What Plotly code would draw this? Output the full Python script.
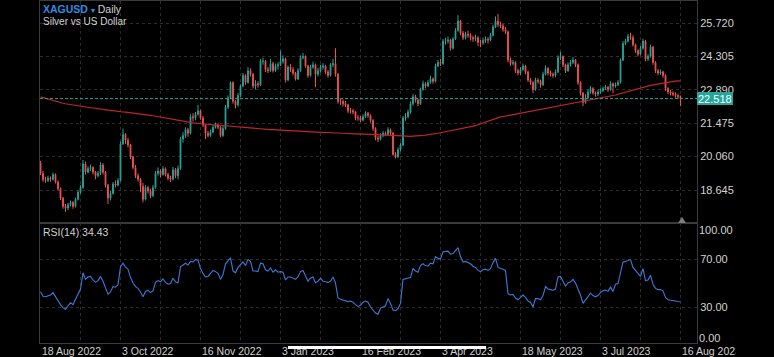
import pandas as pd
import plotly.graph_objects as go
from plotly.subplots import make_subplots

# ---------------- data ----------------
holidays = ['2022-12-26', '2023-01-02', '2023-04-07']
dates = [d.strftime('%Y-%m-%d') for d in pd.bdate_range('2022-08-18', '2023-08-16')
         if d.strftime('%Y-%m-%d') not in holidays]
bar_index = list(range(len(dates)))

open_ = [
    19.80, 19.35, 19.08, 19.05, 19.15, 19.10, 19.30, 18.98, 18.70, 18.30,
    17.95, 17.88, 18.02, 18.12, 17.95, 18.25, 18.55, 18.75, 19.75, 19.40,
    19.55, 19.60, 19.40, 19.25, 19.35, 19.70, 19.40, 18.85, 18.30, 18.50,
    18.90, 18.85, 19.05, 20.60, 21.00, 20.75, 20.55, 20.05, 19.60, 19.25,
    19.10, 18.80, 18.25, 18.75, 18.60, 18.40, 18.75, 19.35, 19.45, 19.30,
    19.55, 19.30, 19.15, 19.10, 19.50, 19.25, 19.55, 20.80, 20.95, 21.20,
    21.05, 21.75, 21.70, 21.85, 22.00, 21.70, 21.40, 21.05, 20.95, 21.10,
    21.30, 21.40, 21.30, 20.95, 21.25, 22.15, 22.55, 23.20, 22.40, 22.25,
    22.65, 23.05, 23.50, 23.20, 23.70, 23.55, 23.05, 23.15, 23.10, 24.10,
    24.10, 23.75, 23.70, 24.00, 23.70, 23.90, 23.95, 24.10, 24.20, 23.30,
    23.85, 23.75, 23.60, 23.35, 23.70, 24.25, 24.30, 23.90, 23.50, 23.85,
    23.95, 23.55, 23.70, 23.85, 23.90, 23.65, 23.50, 23.95, 24.00, 23.55,
    22.40, 22.40, 22.30, 22.25, 22.00, 22.00, 21.95, 21.70, 21.70, 21.60,
    21.75, 21.90, 21.80, 21.60, 21.25, 20.85, 20.80, 20.95, 21.05, 21.00,
    21.20, 21.05, 20.15, 20.05, 20.35, 20.55, 21.70, 21.75, 21.95, 22.30,
    22.60, 22.45, 22.30, 22.90, 23.15, 23.05, 23.20, 23.35, 23.25, 23.90,
    24.05, 24.00, 24.95, 24.95, 25.00, 24.65, 25.05, 25.40, 25.80, 25.30,
    25.10, 25.25, 25.20, 25.10, 25.05, 25.10, 24.90, 24.88, 24.98, 25.03,
    25.00, 25.20, 25.55, 25.80, 25.65, 25.60, 25.45, 25.35, 24.15, 24.00,
    24.05, 23.70, 23.60, 23.75, 23.90, 23.65, 23.30, 23.20, 22.90, 23.30,
    23.25, 23.10, 23.55, 23.80, 23.60, 23.55, 23.50, 23.65, 24.25, 24.30,
    23.95, 23.70, 23.95, 24.05, 24.15, 23.95, 23.20, 22.75, 22.35, 22.55,
    22.80, 22.95, 22.75, 22.70, 22.80, 22.85, 22.95, 23.00, 22.90, 23.15,
    23.05, 23.10, 23.20, 24.15, 24.85, 24.95, 25.15, 25.10, 24.80, 24.55,
    24.40, 24.65, 24.95, 24.20, 24.30, 24.70, 24.05, 23.70, 23.60, 23.65,
    23.50, 22.95, 22.80, 22.75, 22.70, 22.65, 22.60,
]

high = [
    19.88, 19.45, 19.20, 19.25, 19.22, 19.38, 19.35, 19.05, 18.75, 18.35,
    18.05, 18.10, 18.20, 18.18, 18.32, 18.62, 18.85, 19.92, 19.85, 19.65,
    19.72, 19.65, 19.45, 19.45, 19.82, 19.78, 19.45, 18.90, 18.62, 18.98,
    19.05, 19.15, 20.70, 21.25, 21.05, 20.85, 20.60, 20.10, 19.70, 19.35,
    19.15, 18.95, 18.85, 18.82, 18.70, 18.85, 19.45, 19.60, 19.52, 19.65,
    19.60, 19.38, 19.25, 19.62, 19.58, 19.68, 20.90, 21.10, 21.30, 21.28,
    21.85, 21.90, 21.95, 22.25, 22.05, 21.78, 21.45, 21.15, 21.20, 21.40,
    21.50, 21.48, 21.35, 21.35, 22.25, 22.65, 23.25, 23.25, 22.45, 22.75,
    23.12, 23.60, 23.55, 23.85, 23.80, 23.60, 23.30, 23.25, 24.20, 24.25,
    24.15, 23.85, 24.20, 24.08, 24.00, 24.05, 24.55, 24.35, 24.25, 23.92,
    23.98, 23.85, 23.65, 23.80, 24.35, 24.45, 24.35, 23.95, 23.95, 24.08,
    24.00, 23.82, 23.95, 24.02, 23.95, 23.72, 24.02, 24.20, 24.65, 23.60,
    22.50, 22.48, 22.42, 22.30, 22.12, 22.08, 22.00, 21.82, 21.78, 21.85,
    21.98, 21.95, 21.85, 21.65, 21.30, 20.95, 21.05, 21.15, 21.12, 21.30,
    21.25, 21.10, 20.25, 20.45, 20.65, 21.78, 21.90, 22.05, 22.40, 22.72,
    22.68, 22.52, 22.98, 23.28, 23.22, 23.30, 23.48, 23.42, 24.00, 24.15,
    24.20, 25.05, 25.10, 25.15, 25.05, 25.12, 25.50, 26.05, 25.85, 25.38,
    25.35, 25.40, 25.28, 25.18, 25.22, 25.15, 25.00, 25.10, 25.15, 25.12,
    25.30, 25.65, 26.00, 26.10, 25.78, 25.68, 25.55, 25.40, 24.25, 24.15,
    24.10, 23.78, 23.85, 24.00, 23.95, 23.70, 23.38, 23.25, 23.40, 23.38,
    23.32, 23.65, 23.92, 23.85, 23.70, 23.62, 23.75, 24.35, 24.50, 24.35,
    24.00, 24.05, 24.15, 24.28, 24.20, 24.00, 23.25, 22.80, 22.70, 22.90,
    23.05, 23.00, 22.82, 22.90, 22.95, 23.02, 23.10, 23.05, 23.25, 23.20,
    23.20, 23.30, 24.22, 24.95, 25.05, 25.25, 25.30, 25.20, 24.85, 24.60,
    24.75, 25.05, 25.00, 24.40, 24.80, 24.75, 24.10, 23.78, 23.75, 23.70,
    23.55, 23.00, 22.88, 22.82, 22.78, 22.72, 22.65,
]

low = [
    19.28, 19.00, 18.95, 18.98, 19.00, 19.05, 18.92, 18.62, 18.22, 17.85,
    17.72, 17.80, 17.95, 17.85, 17.90, 18.20, 18.48, 18.70, 19.30, 19.35,
    19.45, 19.30, 19.10, 19.18, 19.28, 19.30, 18.75, 18.05, 18.20, 18.45,
    18.75, 18.80, 19.00, 20.55, 20.60, 20.45, 19.95, 19.52, 19.15, 19.00,
    18.55, 18.12, 18.20, 18.50, 18.30, 18.35, 18.70, 19.25, 19.18, 19.25,
    19.22, 19.05, 18.98, 19.05, 19.15, 19.10, 19.50, 20.65, 20.85, 20.90,
    21.00, 21.55, 21.60, 21.80, 21.62, 21.32, 20.80, 20.88, 20.90, 21.05,
    21.25, 21.22, 20.88, 20.90, 21.20, 22.08, 22.50, 22.30, 22.10, 22.18,
    22.58, 23.00, 23.10, 23.15, 23.45, 22.95, 22.90, 22.98, 23.05, 23.95,
    23.65, 23.60, 23.65, 23.62, 23.65, 23.75, 23.90, 24.00, 23.20, 23.25,
    23.65, 23.50, 23.28, 23.30, 23.65, 24.18, 23.82, 23.40, 23.45, 23.78,
    23.00, 23.45, 23.62, 23.75, 23.55, 23.40, 23.45, 23.85, 23.45, 22.30,
    22.25, 22.18, 22.15, 21.90, 21.88, 21.85, 21.60, 21.58, 21.52, 21.55,
    21.70, 21.70, 21.50, 21.15, 20.75, 20.68, 20.75, 20.88, 20.92, 20.95,
    20.98, 20.10, 19.98, 20.00, 20.28, 20.50, 21.58, 21.68, 21.88, 22.22,
    22.35, 22.20, 22.25, 22.85, 22.95, 23.00, 23.15, 23.15, 23.20, 23.85,
    23.90, 23.95, 24.80, 24.85, 24.55, 24.60, 25.00, 25.35, 25.20, 25.00,
    25.02, 25.10, 24.98, 24.92, 24.95, 24.75, 24.70, 24.80, 24.88, 24.85,
    24.95, 25.15, 25.50, 25.55, 25.50, 25.35, 25.25, 24.05, 23.90, 23.92,
    23.60, 23.50, 23.52, 23.70, 23.55, 23.22, 23.10, 22.75, 22.85, 23.15,
    22.98, 23.05, 23.50, 23.50, 23.45, 23.40, 23.42, 23.60, 24.15, 23.85,
    23.60, 23.65, 23.88, 23.98, 23.85, 23.10, 22.65, 22.20, 22.30, 22.50,
    22.72, 22.68, 22.60, 22.62, 22.72, 22.80, 22.88, 22.80, 22.85, 22.75,
    22.98, 23.05, 23.15, 24.10, 24.78, 24.90, 25.00, 24.72, 24.45, 24.30,
    24.35, 24.60, 24.10, 24.10, 24.25, 23.95, 23.60, 23.50, 23.52, 23.40,
    22.85, 22.70, 22.65, 22.62, 22.55, 22.50, 22.20,
]

close = [
    19.35, 19.08, 19.05, 19.15, 19.10, 19.30, 18.98, 18.70, 18.30, 17.95,
    17.88, 18.02, 18.12, 17.95, 18.25, 18.55, 18.75, 19.75, 19.40, 19.55,
    19.60, 19.40, 19.25, 19.35, 19.70, 19.40, 18.85, 18.30, 18.50, 18.90,
    18.85, 19.05, 20.60, 21.00, 20.75, 20.55, 20.05, 19.60, 19.25, 19.10,
    18.80, 18.25, 18.75, 18.60, 18.40, 18.75, 19.35, 19.45, 19.30, 19.55,
    19.30, 19.15, 19.10, 19.50, 19.25, 19.55, 20.80, 20.95, 21.20, 21.05,
    21.75, 21.70, 21.85, 22.00, 21.70, 21.40, 21.05, 20.95, 21.10, 21.30,
    21.40, 21.30, 20.95, 21.25, 22.15, 22.55, 23.20, 22.40, 22.25, 22.65,
    23.05, 23.50, 23.20, 23.70, 23.55, 23.05, 23.15, 23.10, 24.10, 24.10,
    23.75, 23.70, 24.00, 23.70, 23.90, 23.95, 24.10, 24.20, 23.30, 23.85,
    23.75, 23.60, 23.35, 23.70, 24.25, 24.30, 23.90, 23.50, 23.85, 23.95,
    23.55, 23.70, 23.85, 23.90, 23.65, 23.50, 23.95, 24.00, 23.55, 22.40,
    22.40, 22.30, 22.25, 22.00, 22.00, 21.95, 21.70, 21.70, 21.60, 21.75,
    21.90, 21.80, 21.60, 21.25, 20.85, 20.80, 20.95, 21.05, 21.00, 21.20,
    21.05, 20.15, 20.05, 20.35, 20.55, 21.70, 21.75, 21.95, 22.30, 22.60,
    22.45, 22.30, 22.90, 23.15, 23.05, 23.20, 23.35, 23.25, 23.90, 24.05,
    24.00, 24.95, 24.95, 25.00, 24.65, 25.05, 25.40, 25.80, 25.30, 25.10,
    25.25, 25.20, 25.10, 25.05, 25.10, 24.90, 24.88, 24.98, 25.03, 25.00,
    25.20, 25.55, 25.80, 25.65, 25.60, 25.45, 25.35, 24.15, 24.00, 24.05,
    23.70, 23.60, 23.75, 23.90, 23.65, 23.30, 23.20, 22.90, 23.30, 23.25,
    23.10, 23.55, 23.80, 23.60, 23.55, 23.50, 23.65, 24.25, 24.30, 23.95,
    23.70, 23.95, 24.05, 24.15, 23.95, 23.20, 22.75, 22.35, 22.55, 22.80,
    22.95, 22.75, 22.70, 22.80, 22.85, 22.95, 23.00, 22.90, 23.15, 23.05,
    23.10, 23.20, 24.15, 24.85, 24.95, 25.15, 25.10, 24.80, 24.55, 24.40,
    24.65, 24.95, 24.20, 24.30, 24.70, 24.05, 23.70, 23.60, 23.65, 23.50,
    22.95, 22.80, 22.75, 22.70, 22.65, 22.60, 22.518,
]

ma200 = [
    22.59, 22.56, 22.52, 22.49,
    22.45, 22.42, 22.38,
    22.36, 22.34, 22.32, 22.30, 22.28, 22.26,
    22.24, 22.23, 22.21, 22.19, 22.18, 22.16, 22.15, 22.13,
    22.12, 22.10, 22.09, 22.07, 22.06, 22.04,
    22.03, 22.02, 22.00, 21.99, 21.98, 21.96,
    21.95, 21.94, 21.93, 21.91, 21.90,
    21.89, 21.88, 21.86, 21.85, 21.84, 21.82, 21.81,
    21.79, 21.77, 21.75, 21.73, 21.71, 21.69,
    21.67, 21.65, 21.63, 21.61, 21.58, 21.56,
    21.55, 21.53, 21.52, 21.51, 21.49, 21.48, 21.46, 21.45,
    21.44, 21.43, 21.43, 21.42, 21.41, 21.40, 21.40, 21.39, 21.38, 21.37,
    21.36, 21.35, 21.34, 21.33, 21.32, 21.31, 21.30, 21.29, 21.28, 21.27, 21.26, 21.25, 21.24, 21.22,
    21.22, 21.21, 21.21, 21.20, 21.20, 21.19, 21.19, 21.18, 21.18, 21.17, 21.17, 21.16,
    21.15, 21.15, 21.14, 21.14, 21.13, 21.13, 21.12, 21.12, 21.11, 21.10, 21.10, 21.09,
    21.09, 21.08, 21.08, 21.07, 21.07, 21.06, 21.06, 21.05, 21.05, 21.04, 21.03, 21.03, 21.02,
    21.02, 21.02, 21.01, 21.01, 21.01, 21.00, 21.00, 21.00, 20.99, 20.99, 20.98, 20.98, 20.97, 20.97,
    20.96, 20.96, 20.95, 20.94, 20.93, 20.93, 20.92,
    20.92, 20.92, 20.93, 20.93, 20.94, 20.95,
    20.96, 20.97, 20.98, 21.00, 21.01,
    21.03, 21.05, 21.07, 21.09, 21.11, 21.12, 21.14, 21.16,
    21.18, 21.20, 21.22, 21.24, 21.26, 21.29, 21.31,
    21.34, 21.37, 21.41, 21.45,
    21.49, 21.53, 21.57, 21.61, 21.65, 21.69,
    21.71, 21.74, 21.76, 21.78, 21.81, 21.83,
    21.85, 21.87, 21.89, 21.91, 21.93, 21.94, 21.96,
    21.98, 22.00, 22.02, 22.04, 22.05, 22.07, 22.09,
    22.11, 22.13, 22.15, 22.17, 22.19, 22.21, 22.23,
    22.25, 22.28, 22.30, 22.32, 22.35, 22.37, 22.40, 22.42,
    22.44, 22.45, 22.47, 22.48, 22.50, 22.52, 22.53,
    22.55, 22.57, 22.60, 22.62, 22.65, 22.67, 22.70,
    22.73, 22.76, 22.80, 22.83, 22.86, 22.90, 22.93,
    22.96, 22.98, 23.01, 23.03, 23.05, 23.08, 23.10,
    23.12, 23.15, 23.17, 23.19, 23.21, 23.23,
    23.24, 23.25, 23.26, 23.27, 23.27,
]

rsi14 = [
    42.8, 39.0, 38.5, 39.5, 40.0, 42.0, 38.5, 35.5, 32.0, 29.5,
    28.0, 31.0, 33.5, 32.0, 36.0, 40.5, 45.0, 58.5, 53.0, 55.0,
    55.5, 52.5, 50.5, 52.0, 55.5, 51.5, 45.0, 40.5, 42.5, 47.0,
    46.5, 48.5, 63.5, 66.5, 63.5, 61.5, 54.5, 50.0, 47.0, 45.5,
    42.5, 38.5, 43.0, 44.0, 42.0, 43.5, 50.5, 52.0, 51.0, 53.5,
    50.5, 49.0, 49.5, 54.0, 51.0, 50.0, 63.5, 65.0, 66.5, 65.0,
    68.0, 67.5, 69.5, 69.0, 62.0, 58.0, 55.0, 55.5, 58.0, 60.5,
    59.5, 58.0, 53.0, 57.0, 66.0, 68.5, 71.0, 60.0, 58.5, 63.0,
    65.5, 67.5, 64.5, 69.5, 68.0, 60.0, 60.0, 59.5, 66.5, 66.0,
    61.0, 60.0, 62.5, 59.0, 61.0, 59.0, 59.5, 59.0, 52.5, 55.0,
    55.0, 54.0, 53.0, 55.0, 59.5, 60.5, 56.5, 51.5, 54.0, 55.0,
    50.0, 51.5, 54.0, 51.5, 51.0, 50.5, 51.5, 55.0, 50.0, 37.5,
    36.5, 36.0, 35.5, 34.5, 35.0, 34.0, 32.0, 30.5, 31.5, 34.0,
    35.0, 34.0, 30.0, 27.5, 25.0, 24.0, 29.0, 30.0, 31.0, 37.0,
    33.0, 27.5, 27.0, 28.5, 33.0, 53.0, 53.5, 54.0, 54.5, 62.0,
    60.0, 59.0, 64.5, 66.0, 64.5, 64.0, 66.5, 66.0, 72.0, 70.5,
    70.0, 76.0, 76.0, 76.5, 74.0, 74.5, 77.0, 79.5, 72.0, 67.5,
    68.0, 67.0, 66.0, 64.0, 63.0, 60.5, 59.5, 61.0, 61.5, 60.5,
    62.0, 67.0, 70.5, 63.0, 62.5, 61.5, 60.5, 41.0, 40.0, 40.5,
    37.5, 36.0, 38.0, 40.0, 38.0, 35.0, 34.0, 30.0, 37.0, 37.0,
    36.0, 39.5, 47.0, 45.0, 44.5, 44.0, 45.0, 55.0, 55.5, 51.5,
    47.5, 50.0, 51.0, 53.0, 50.0, 45.0, 40.0, 33.0, 36.0, 39.0,
    41.5, 39.5, 38.5, 39.5, 42.0, 43.5, 44.0, 43.0, 46.5, 43.0,
    49.0, 49.5, 58.0, 67.5, 68.0, 68.5, 69.5, 63.0, 60.5, 57.5,
    55.5, 62.0, 52.0, 52.5, 56.5, 49.0, 45.5, 44.5, 44.5, 43.5,
    38.0, 36.0, 35.5, 35.0, 34.8, 34.6, 34.43,
]

for _name, _arr in [('open', open_), ('high', high), ('low', low), ('close', close),
                    ('ma200', ma200), ('rsi14', rsi14)]:
    assert len(_arr) == len(dates), (_name, len(_arr), len(dates))

tick_dates = ['2022-08-18', '2022-10-03', '2022-11-16', '2023-01-03', '2023-02-16',
              '2023-04-03', '2023-05-18', '2023-07-03', '2023-08-16']
tick_labels = ['18 Aug 2022', '3 Oct 2022', '16 Nov 2022', '3 Jan 2023', '16 Feb 2023',
               '3 Apr 2023', '18 May 2023', '3 Jul 2023', '16 Aug 2023']
price_ticks = [18.645, 20.060, 21.475, 22.890, 24.305, 25.720]
rsi_ticks = [30, 70]
rsi_edge_ticks = [100, 0]

# ---------------- style ----------------
FONT = 'Liberation Sans, Arial, Helvetica, sans-serif'
UP = '#26a69a'
DOWN = '#ef5350'
MA_COLOR = '#c0262d'
RSI_COLOR = '#3d7ad6'
TXT = '#d2d2d2'
GRID = '#2c2c2c'
BORDER = '#3a3a3a'
BLUE = '#2e8de0'

W, H = 774, 357
ML, MR, MT, MB = 40, 77, 1, 14
PLOT_H = H - MT - MB
PRICE_H, RSI_H = 222, 120

def py(ypx):
    """paper y from pixel y (top-origin)"""
    return (H - MB - ypx) / PLOT_H

fig = make_subplots(rows=2, cols=1, shared_xaxes=True, vertical_spacing=0,
                    row_heights=[PRICE_H, RSI_H])

fig.add_trace(go.Candlestick(
    x=bar_index, open=open_, high=high, low=low, close=close,
    text=dates, hoverinfo='text+y',
    increasing=dict(line=dict(color=UP, width=1), fillcolor=UP),
    decreasing=dict(line=dict(color=DOWN, width=1), fillcolor=DOWN),
    whiskerwidth=0, showlegend=False, name='XAGUSD'), row=1, col=1)

fig.add_trace(go.Scatter(x=bar_index, y=ma200, mode='lines',
                         line=dict(color=MA_COLOR, width=1.2),
                         hoverinfo='skip', showlegend=False), row=1, col=1)

fig.add_trace(go.Scatter(x=bar_index, y=rsi14, mode='lines',
                         line=dict(color=RSI_COLOR, width=1.1),
                         hoverinfo='skip', showlegend=False), row=2, col=1)

x_range = [-0.2, 262.6]
price_range = [17.247, 26.652]
grid_vals = bar_index[16::16]

axis_common = dict(showline=True, mirror=True, linecolor=BORDER, linewidth=1,
                   zeroline=False, ticks='', showgrid=True, gridcolor=GRID,
                   griddash='dot', gridwidth=1)

fig.update_xaxes(range=x_range, tickmode='array', tickvals=grid_vals,
                 showticklabels=False, rangeslider_visible=False, **axis_common)
fig.update_yaxes(side='right', tickfont=dict(color=TXT, size=11, family=FONT),
                 **axis_common)
fig.update_yaxes(range=price_range, tickmode='array', tickvals=price_ticks,
                 ticktext=[f'{v:.3f}' for v in price_ticks], row=1, col=1)
fig.update_yaxes(range=[0, 100], tickmode='array', tickvals=rsi_ticks,
                 ticktext=[f'{v:.2f}' for v in rsi_ticks], row=2, col=1)

annotations = []
# title
annotations.append(dict(
    xref='paper', yref='paper', x=0, xshift=1, y=py(9), xanchor='left', yanchor='middle',
    text=f'<b>XAGUSD</b> <span style="font-size:8px">▾</span> <span style="color:{TXT}">Daily</span>',
    font=dict(color=BLUE, size=10.5, family=FONT), showarrow=False))
annotations.append(dict(
    xref='paper', yref='paper', x=0, xshift=1, y=py(21), xanchor='left', yanchor='middle',
    text='Silver vs US Dollar', font=dict(color=TXT, size=10, family=FONT), showarrow=False))
annotations.append(dict(
    xref='paper', yref='paper', x=0, xshift=1, y=py(232), xanchor='left', yanchor='middle',
    text=f'RSI(14) {rsi14[-1]:.2f}', font=dict(color=TXT, size=10.5, family=FONT),
    showarrow=False))
# x date labels (left aligned at gridlines)
for d, lab in zip(tick_dates, tick_labels):
    a = dict(xref='x2', yref='paper', x=dates.index(d), xshift=-1, y=py(350.5),
             xanchor='left', yanchor='middle', text=lab, align='left',
             font=dict(color=TXT, size=10.5, family=FONT), showarrow=False)
    if d == tick_dates[-1]:
        a.update(width=54, height=14)
    annotations.append(a)
# RSI edge labels
for v, ypx in zip(rsi_edge_ticks, [229.5, 337.5]):
    annotations.append(dict(xref='paper', yref='paper', x=1, xshift=0, y=py(ypx),
                            xanchor='left', yanchor='middle', text=f'{v:.2f}',
                            font=dict(color=TXT, size=11, family=FONT), showarrow=False))
# last price box
annotations.append(dict(xref='paper', yref='y', x=1, y=close[-1], xanchor='left',
                        yanchor='middle', text=f'{close[-1]:.3f}', bgcolor=UP,
                        borderpad=1, borderwidth=0, height=11,
                        font=dict(color='#ffffff', size=11, family=FONT), showarrow=False))
# phone home-indicator bar
annotations.append(dict(xref='paper', yref='paper', x=(288 - ML) / (W - ML - MR),
                        y=py(347.5), xanchor='left', yanchor='middle', text='',
                        width=198, height=3, bgcolor='#ffffff', borderpad=0,
                        borderwidth=0, showarrow=False))

shapes = [
    dict(type='line', xref='paper', x0=0, x1=1, yref='y', y0=close[-1], y1=close[-1],
         line=dict(color=UP, width=1, dash='3px,2px'), layer='above'),
]
tx = bar_index[-1] + 0.6
shapes.append(dict(type='path', xref='x', yref='y domain',
                   path=f'M {tx - 1.55},0 L {tx + 1.55},0 L {tx},0.028 Z',
                   fillcolor='#7d7d7d', line=dict(width=0)))

fig.update_layout(
    width=W, height=H,
    margin=dict(l=ML, r=MR, t=MT, b=MB, pad=0, autoexpand=False),
    paper_bgcolor='#000000', plot_bgcolor='#000000',
    font=dict(family=FONT, color=TXT),
    showlegend=False, boxgap=0.55, hovermode='x',
    annotations=annotations, shapes=shapes,
)

fig.write_html('out.html',
               config={'displayModeBar': False},
               post_script="document.body.style.margin='0px';"
                           "document.body.style.background='#000000';"
                           "document.body.style.overflow='hidden';")
